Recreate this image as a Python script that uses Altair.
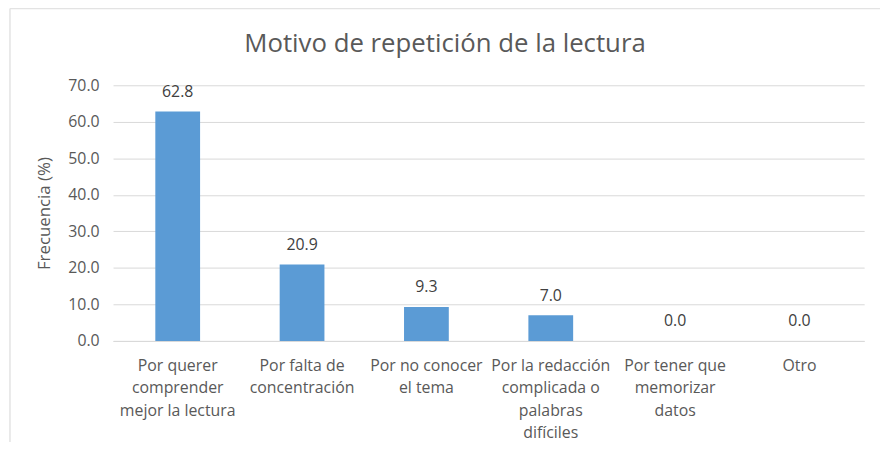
import altair as alt
import pandas as pd

categorias = [
    "Por querer\ncomprender\nmejor la lectura",
    "Por falta de\nconcentración",
    "Por no conocer\nel tema",
    "Por la redacción\ncomplicada o\npalabras\ndifíciles",
    "Por tener que\nmemorizar\ndatos",
    "Otro",
]
frecuencia = [62.8, 20.9, 9.3, 7.0, 0.0, 0.0]

df = pd.DataFrame({"cat": categorias, "val": frecuencia})

FONT = "Open Sans"
GRAY = "#595959"

base = alt.Chart(df).encode(
    x=alt.X(
        "cat:N",
        sort=categorias,
        title=None,
        scale=alt.Scale(paddingInner=0.64, paddingOuter=0.34),
        axis=alt.Axis(
            labelExpr="split(datum.label, '\\n')",
            labelAngle=0,
            labelFont=FONT,
            labelFontSize=16,
            labelColor=GRAY,
            labelLineHeight=22.5,
            labelPadding=17,
            ticks=False,
            domainColor="#d9d9d9",
            domainWidth=1,
            labelLimit=200,
        ),
    ),
    y=alt.Y(
        "val:Q",
        title="Frecuencia (%)",
        scale=alt.Scale(domain=[0, 70]),
        axis=alt.Axis(
            values=[0, 10, 20, 30, 40, 50, 60, 70],
            format=".1f",
            labelFont=FONT,
            labelFontSize=16,
            labelColor=GRAY,
            labelPadding=14,
            titleFont=FONT,
            titleFontSize=17,
            titleFontWeight="normal",
            titleColor=GRAY,
            titlePadding=14,
            ticks=False,
            domain=False,
            gridColor="#d9d9d9",
            gridWidth=1,
        ),
    ),
)

bars = base.mark_bar(color="#5B9BD5")
labels = base.mark_text(
    dy=-12, baseline="bottom", font=FONT, fontSize=16, color="#404040"
).encode(text=alt.Text("val:Q", format=".1f"))

# light frame around the chart (decoration)
frame_src = alt.Chart(pd.DataFrame({"k": [0]}))
frame_left = frame_src.mark_rule(color="#e3e3e3", strokeWidth=1.5, clip=False).encode(
    x=alt.value(-104), y=alt.value(-77.5), y2=alt.value(380)
)
frame_top = frame_src.mark_rule(color="#e3e3e3", strokeWidth=1.5, clip=False).encode(
    x=alt.value(-104), x2=alt.value(780), y=alt.value(-77.5)
)

chart = (
    alt.layer(frame_left, frame_top, bars, labels)
    .properties(
        width=758,
        height=258,
        title=alt.TitleParams(
            "Motivo de repetición de la lectura",
            font=FONT,
            fontSize=26,
            fontWeight="normal",
            color=GRAY,
            anchor="middle",
            frame="group",
            offset=-50,
            dx=-44,
        ),
        padding={"left": 106, "top": 76, "right": 16, "bottom": 100},
        autosize=alt.AutoSizeParams(type="none"),
    )
    .configure_view(stroke=None)
)

chart.save("out.html", embed_options={"renderer": "svg", "actions": False})
